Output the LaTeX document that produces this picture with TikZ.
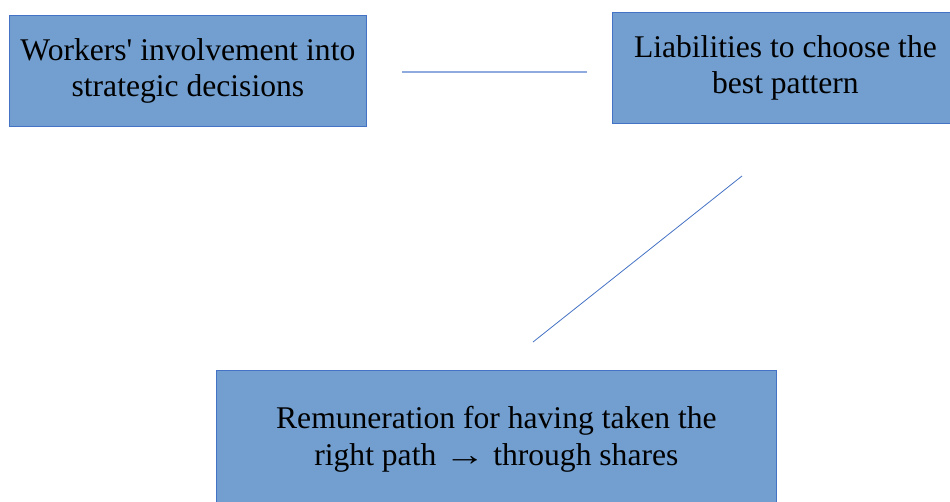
\documentclass[tikz,border=0pt]{standalone}
\usepackage{fontspec}
\setmainfont{Liberation Serif}[Ligatures=TeXOff]
\definecolor{boxfill}{HTML}{729FCF}
\definecolor{boxline}{HTML}{4472C4}
\definecolor{linklight}{HTML}{8FAADC}
\newcommand{\widearrow}{\scalebox{1.3}[1]{→}}
\begin{document}
\begin{tikzpicture}[x=1pt,y=-1pt,
  blockbox/.style={draw=boxline,fill=boxfill,line width=0.8pt,inner sep=0pt,
    anchor=north west,align=center,text=black,
    font=\fontsize{31.6}{36.5}\selectfont},
  linkline/.style={draw=boxline,line width=0.8pt}]
  \useasboundingbox (0,0) rectangle (950,502);
  % the three blocks
  \node[blockbox,minimum width=357pt,minimum height=111pt] (inv) at (9,15)
    {Workers' involvement into\\strategic decisions};
  \node[blockbox,minimum width=346pt,minimum height=111pt] (lia) at (612,12)
    {Liabilities to choose the\\best pattern};
  \node[blockbox,minimum width=560pt,minimum height=138pt] (rem) at (216,370)
    {Remuneration for having taken the\\right path \widearrow{} through shares};
  % free ends of the links
  \coordinate (h1) at (402,72);
  \coordinate (h2) at (587,72);
  \coordinate (d1) at (742,176);
  \coordinate (d2) at (533,342);
  \draw[linkline,draw=linklight,line width=1.6pt] (h1) -- (h2);
  \draw[linkline] (d1) -- (d2);
\end{tikzpicture}
\end{document}
